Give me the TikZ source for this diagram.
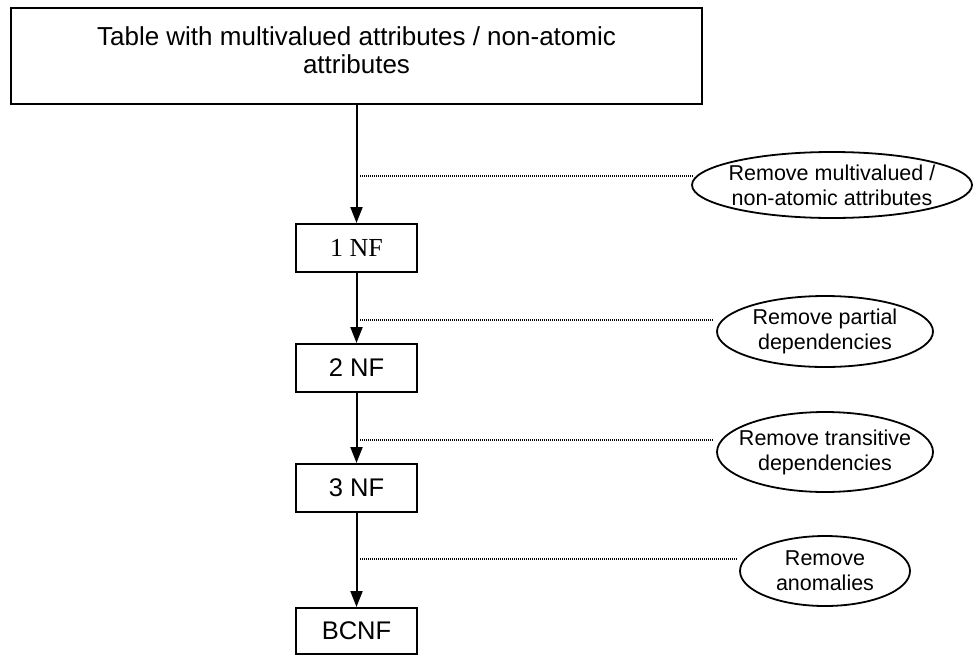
\documentclass[tikz,border=0pt]{standalone}
\usepackage{fontspec}
\setmainfont{Liberation Sans}
\newfontfamily\timesfont{Liberation Serif}
\usetikzlibrary{shapes.geometric,arrows.meta,calc}

\begin{document}
\begin{tikzpicture}[x=1pt, y=-1pt,
  nfbox/.style={draw, line width=2pt, minimum width=121pt, minimum height=48pt, inner sep=0pt, font=\fontsize{25.5}{30}\selectfont},
  stepnote/.style={draw, ellipse, line width=1.8pt, inner sep=-15pt, align=center, font=\fontsize{21.5}{25}\selectfont},
  flow/.style={-{Triangle[length=16pt,width=12pt]}, line width=2pt},
  dotline/.style={line width=1.1pt, dash pattern=on 1pt off 1pt}]
\useasboundingbox (0,0) rectangle (973,656);

\node[draw, line width=2.6pt, minimum width=691pt, minimum height=96pt, inner sep=0pt,
  label={[font=\fontsize{26}{28}\selectfont, align=center, yshift=6pt]center:Table with multivalued attributes / non-atomic\\attributes}] (tbl) at (356.5,56) {};

\node[nfbox, font=\fontsize{26}{30}\timesfont] (nf1) at (356.5,248) {1 NF};
\node[nfbox] (nf2) at (356.5,368) {2 NF};
\node[nfbox] (nf3) at (356.5,488) {3 NF};
\node[nfbox, minimum height=46pt] (bcnf) at (356.5,631) {BCNF};

\node[stepnote, minimum width=280pt, minimum height=66pt] (rm1) at (832,185) {Remove multivalued /\\non-atomic attributes};
\node[stepnote, minimum width=216pt, minimum height=71pt] (rm2) at (825,331.5) {Remove partial\\dependencies};
\node[stepnote, minimum width=216pt, minimum height=80pt] (rm3) at (825,452) {Remove transitive\\dependencies};
\node[stepnote, minimum width=170pt, minimum height=70pt] (rm4) at (825,571) {Remove\\anomalies};

\draw[flow] (tbl) -- (nf1);
\draw[flow] (nf1) -- (nf2);
\draw[flow] (nf2) -- (nf3);
\draw[flow] (nf3) -- (bcnf);

\coordinate (j1) at (360,176);
\coordinate (j2) at (360,320);
\coordinate (j3) at (360,440);
\coordinate (j4) at (360,559);
\draw[dotline] (j1) -- ($(j1 -| rm1.west)+(1,0)$);
\draw[dotline] (j2) -- ($(j2 -| rm2.west)+(-3,0)$);
\draw[dotline] (j3) -- ($(j3 -| rm3.west)+(-3,0)$);
\draw[dotline] (j4) -- ($(j4 -| rm4.west)+(-3,0)$);
\end{tikzpicture}
\end{document}
